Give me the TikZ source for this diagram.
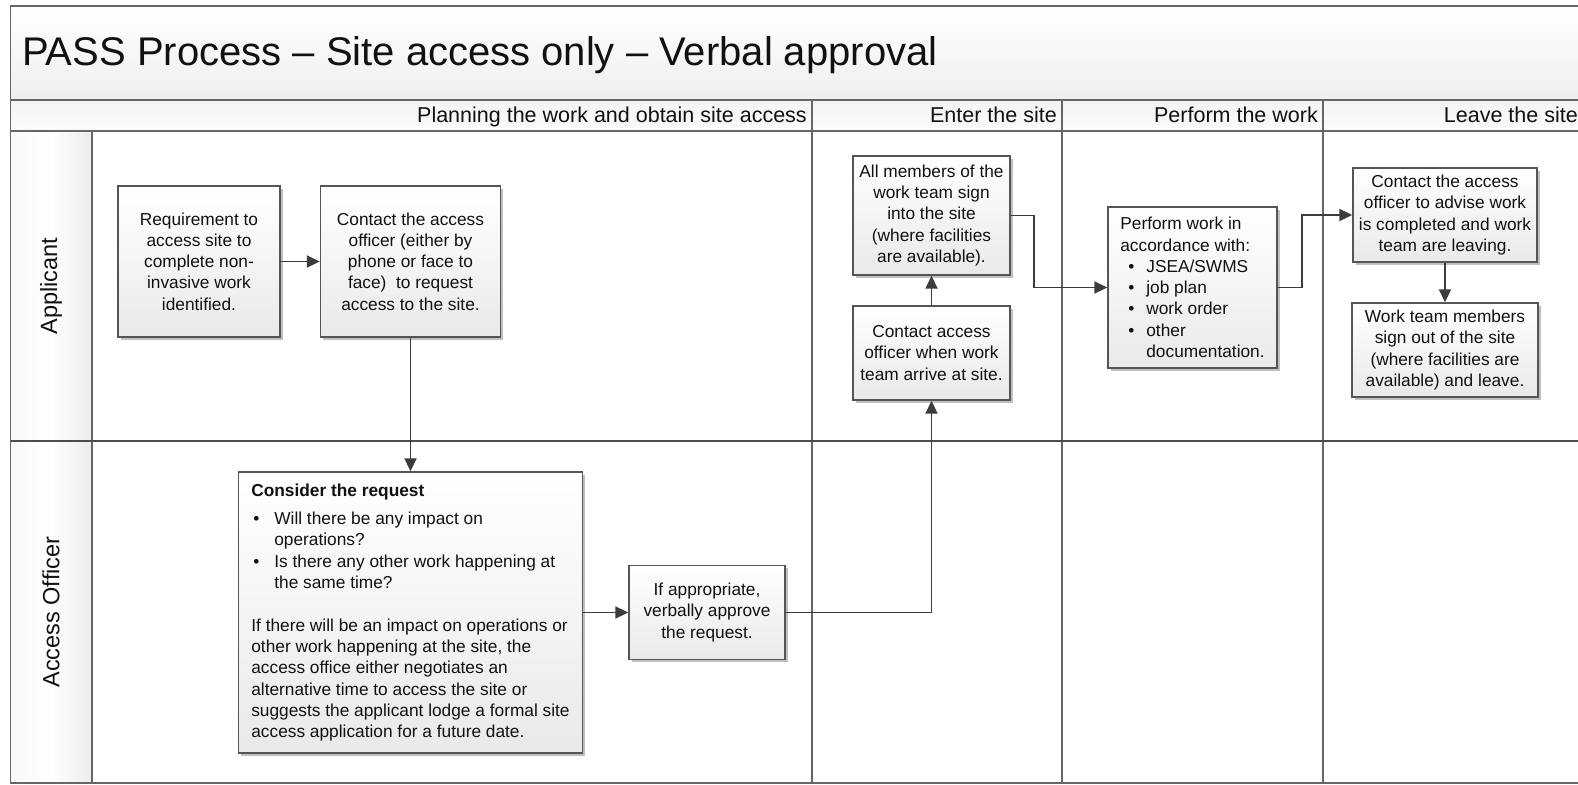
\documentclass[tikz,border=0pt]{standalone}
\usepackage{fontspec}
\setmainfont{Liberation Sans}
\usetikzlibrary{arrows.meta,shadows}
\definecolor{gridc}{HTML}{666666}
\definecolor{linec}{HTML}{3C3C3C}
\definecolor{boxd}{HTML}{555555}
\definecolor{txt}{HTML}{111111}
\newcommand\myblt[2]{\makebox[#1][l]{\hspace*{#2}\textbullet}}
\newcommand\myind[1]{\hspace*{#1}}
\begin{document}
\begin{tikzpicture}[x=1pt,y=-1pt,
  stepbox/.style={draw=boxd, line width=1.4pt, top color=white, bottom color=gray!17,
    drop shadow={shadow xshift=2.5pt, shadow yshift=-2.5pt, fill=black, opacity=0.25},
    inner sep=0pt, align=center, text=txt, font=\fontsize{17.3}{21.3}\selectfont},
  conn/.style={draw=linec, line width=1.9pt, -{Triangle[length=13pt,width=12pt]}},
  grid/.style={draw=gridc, line width=1.6pt},
  hdr/.style={font=\fontsize{21.5}{24}\selectfont, anchor=base east, inner sep=0pt, text=txt},
  lane/.style={font=\fontsize{23.5}{26}\selectfont, rotate=90, inner sep=0pt, text=txt}]
\useasboundingbox (0,0) rectangle (1578,784);
% background fills
\shade[top color=white, bottom color=gray!13] (10.5,6) rectangle (1584,100);
\shade[top color=gray!9, bottom color=gray!3] (10.5,100) rectangle (1584,131);
\shade[left color=gray!5, right color=gray!15, middle color=white] (10.5,131) rectangle (92,783);
% grid
\draw[grid] (1584,6) -- (10.5,6) -- (10.5,783) -- (1584,783);
\draw[grid] (10.5,100) -- (1584,100);
\draw[grid] (10.5,131) -- (1584,131);
\draw[grid] (92,131) -- (92,783);
\draw[grid] (812,100) -- (812,783);
\draw[grid] (1062,100) -- (1062,783);
\draw[grid] (1323,100) -- (1323,783);
\draw[grid, draw=black!70, line width=2pt] (10.5,441) -- (1584,441);
% title and headers
\node[anchor=base west, inner sep=0pt, text=txt, font=\fontsize{40}{44}\selectfont] (title) at (22,65) {PASS Process – Site access only – Verbal approval};
\node[hdr] (h1) at (807,122) {Planning the work and obtain site access};
\node[hdr] (h2) at (1057,122) {Enter the site};
\node[hdr] (h3) at (1318,122) {Perform the work};
\node[hdr] (h4) at (1578,122) {Leave the site};
\node[lane] (l1) at (51,286) {Applicant};
\node[lane] (l2) at (51,612) {Access Officer};
% boxes
\node[stepbox, minimum width=162pt, minimum height=151pt] (b1) at (199,261.5)
  {Requirement to\\access site to\\complete non-\\invasive work\\identified.};
\node[stepbox, minimum width=180pt, minimum height=151pt] (b2) at (410.5,261.5)
  {Contact the access\\officer (either by\\phone or face to\\face)\ \ to request\\access to the site.};
\node[stepbox, align=left, minimum width=344pt, minimum height=281pt] (b3) at (410.5,612.5)
  {\textbf{Consider the request}\\[7pt]
   \myblt{23pt}{2pt}Will there be any impact on\\
   \myind{23pt}operations?\\
   \myblt{23pt}{2pt}Is there any other work happening at\\
   \myind{23pt}the same time?\\[21.3pt]
   If there will be an impact on operations or\\
   other work happening at the site, the\\
   access office either negotiates an\\
   alternative time to access the site or\\
   suggests the applicant lodge a formal site\\
   access application for a future date.};
\node[stepbox, minimum width=156pt, minimum height=94pt] (b4) at (707,612.5)
  {If appropriate,\\verbally approve\\the request.};
\node[stepbox, minimum width=157pt, minimum height=119pt] (b5) at (931.5,215.5)
  {All members of the\\work team sign\\into the site\\(where facilities\\are available).};
\node[stepbox, minimum width=157pt, minimum height=94pt] (b6) at (931.5,353)
  {Contact access\\officer when work\\team arrive at site.};
\node[stepbox, align=left, minimum width=169pt, minimum height=161pt] (b7) at (1192.5,287.5)
  {Perform work in\\accordance with:\\
   \myblt{26pt}{8pt}JSEA/SWMS\\
   \myblt{26pt}{8pt}job plan\\
   \myblt{26pt}{8pt}work order\\
   \myblt{26pt}{8pt}other\\
   \myind{26pt}documentation.};
\node[stepbox, minimum width=184pt, minimum height=94pt] (b8) at (1445,215)
  {Contact the access\\officer to advise work\\is completed and work\\team are leaving.};
\node[stepbox, minimum width=186pt, minimum height=94pt] (b9) at (1445,350)
  {Work team members\\sign out of the site\\(where facilities are\\available) and leave.};
% connectors
\draw[conn] (b1.east) -- (b2.west);
\draw[conn] (b2.south) -- (b3.north);
\draw[conn] (b3.east) -- (b4.west);
\draw[conn] (b4.east) -| (b6.south);
\draw[conn] (b6.north) -- (b5.south);
\draw[conn] (b5.east) -- ++(23,0) |- (b7.west);
\draw[conn] (b7.east) -- ++(24,0) |- (b8.west);
\draw[conn] (b8.south) -- (b9.north);
\end{tikzpicture}
\end{document}
